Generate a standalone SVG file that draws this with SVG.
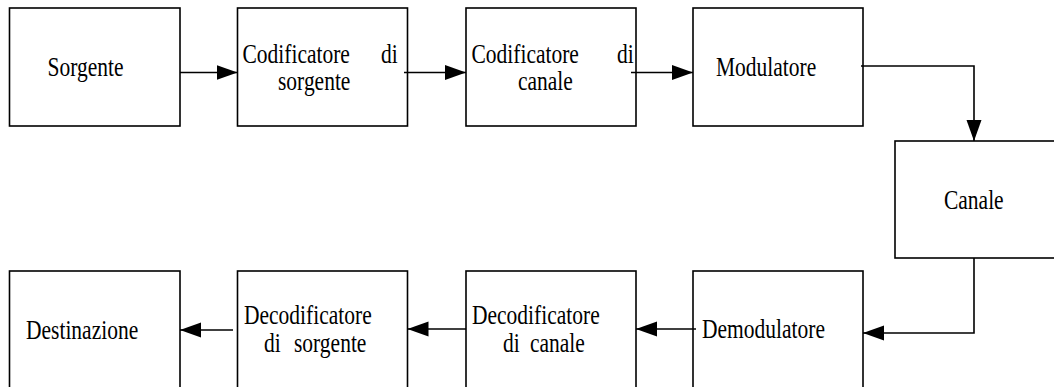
<svg xmlns="http://www.w3.org/2000/svg" width="1054" height="387" viewBox="0 0 1054 387">
<style>
.box{fill:#fff;stroke:#000;stroke-width:1.6}
.t{font-size:21.5px;fill:#000}
.c{fill:none;stroke:#000;stroke-width:1.6}
</style>
<defs>
<marker id="ah" markerUnits="userSpaceOnUse" markerWidth="22" markerHeight="16" refX="21" refY="7.5" orient="auto">
<path d="M0,0 L21,7.5 L0,15 z" fill="#000"/>
</marker>
</defs>
<rect width="1054" height="387" fill="#fff"/>
<g font-family="'Liberation Serif', 'Times New Roman', Times, 'DejaVu Serif', serif">
<g id="sorgente">
<rect class="box" x="9.5" y="8" width="170.5" height="118"/>
<text class="t" transform="translate(47.5,76) scale(1,1.27)">Sorgente</text>
</g>
<g id="codificatore-sorgente">
<rect class="box" x="237.5" y="8" width="170" height="118"/>
<text class="t" transform="translate(242.5,62.5) scale(1,1.27)">Codificatore</text>
<text class="t" transform="translate(381,62.5) scale(1,1.27)">di</text>
<text class="t" transform="translate(278,90) scale(1,1.27)">sorgente</text>
</g>
<g id="codificatore-canale">
<rect class="box" x="466" y="8" width="170" height="118"/>
<text class="t" transform="translate(471.5,62.5) scale(1,1.27)">Codificatore</text>
<text class="t" transform="translate(617,62.5) scale(1,1.27)">di</text>
<text class="t" transform="translate(518,90) scale(1,1.27)">canale</text>
</g>
<g id="modulatore">
<rect class="box" x="693" y="8" width="170" height="118"/>
<text class="t" transform="translate(716,76) scale(1,1.27)">Modulatore</text>
</g>
<g id="canale">
<rect class="box" x="895" y="141" width="170" height="117"/>
<text class="t" transform="translate(944,209) scale(1,1.27)">Canale</text>
</g>
<g id="destinazione">
<rect class="box" x="9.5" y="271" width="170.5" height="130"/>
<text class="t" transform="translate(26,339) scale(1,1.27)">Destinazione</text>
</g>
<g id="decodificatore-sorgente">
<rect class="box" x="237.5" y="271" width="170" height="130"/>
<text class="t" transform="translate(244,324) scale(1,1.27)">Decodificatore</text>
<text class="t" transform="translate(264,352) scale(1,1.27)">di<tspan x="30">sorgente</tspan></text>
</g>
<g id="decodificatore-canale">
<rect class="box" x="466" y="271" width="170" height="130"/>
<text class="t" transform="translate(472,324) scale(1,1.27)">Decodificatore</text>
<text class="t" transform="translate(503,352) scale(1,1.27)">di<tspan x="27">canale</tspan></text>
</g>
<g id="demodulatore">
<rect class="box" x="693" y="271" width="170" height="130"/>
<text class="t" transform="translate(702,338) scale(1,1.27)">Demodulatore</text>
</g>
</g>
<g id="connectors">
<path class="c" d="M180,72.5 H237.5" marker-end="url(#ah)"/>
<path class="c" d="M404,72.5 H466" marker-end="url(#ah)"/>
<path class="c" d="M631,72.5 H693" marker-end="url(#ah)"/>
<path class="c" d="M861,66 H974 V141" marker-end="url(#ah)"/>
<path class="c" d="M974,258 V333 H863" marker-end="url(#ah)"/>
<path class="c" d="M696,329 H636" marker-end="url(#ah)"/>
<path class="c" d="M466,329 H407.5" marker-end="url(#ah)"/>
<path class="c" d="M233,330 H180" marker-end="url(#ah)"/>
</g>
</svg>
